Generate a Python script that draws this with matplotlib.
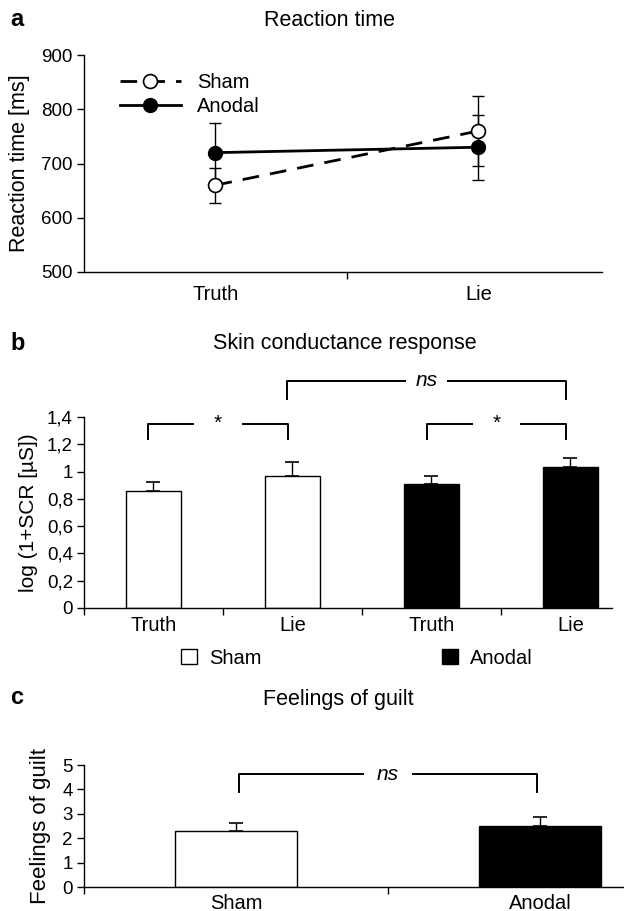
import matplotlib
matplotlib.use("Agg")
import matplotlib.pyplot as plt
from matplotlib.patches import Patch

plt.rcParams["font.family"] = ["Liberation Sans", "DejaVu Sans"]

# panel a: reaction time
rt_conditions = ["Truth", "Lie"]
rt_sham = [660, 760]
rt_sham_err = [32, 65]
rt_anodal = [720, 730]
rt_anodal_err = [55, 60]

# panel b: skin conductance response
scr_labels = ["Truth", "Lie", "Truth", "Lie"]
scr_values = [0.86, 0.97, 0.91, 1.03]
scr_err = [0.06, 0.10, 0.06, 0.07]
scr_groups = ["Sham", "Sham", "Anodal", "Anodal"]
scr_yticks = [0, 0.2, 0.4, 0.6, 0.8, 1.0, 1.2, 1.4]
scr_yticklabels = ["0", "0,2", "0,4", "0,6", "0,8", "1", "1,2", "1,4"]

# panel c: feelings of guilt
guilt_labels = ["Sham", "Anodal"]
guilt_values = [2.3, 2.5]
guilt_err = [0.33, 0.35]

colors = {"Sham": "white", "Anodal": "black"}
W, H = 624, 911
TICK_FS = 13.5
LAB_FS = 14.5
fig = plt.figure(figsize=(W / 100, H / 100), dpi=100)


def px_axes(left, top, right, bottom):
    return fig.add_axes([left / W, 1 - bottom / H, (right - left) / W, (bottom - top) / H])


def style(ax):
    for s in ["top", "right"]:
        ax.spines[s].set_visible(False)
    for s in ["left", "bottom"]:
        ax.spines[s].set_linewidth(1.0)
    ax.tick_params(axis="y", direction="out", length=5, width=1, labelsize=TICK_FS, pad=3)
    ax.tick_params(axis="x", direction="out", length=5, width=1, labelsize=TICK_FS, pad=8)


def bracket(ax, x1, x2, y_top, y_bot, text, gap, italic=False, fs=15):
    xm = (x1 + x2) / 2
    kw = dict(color="black", lw=1.4, clip_on=False, solid_capstyle="butt")
    ax.plot([x1, x1, xm - gap], [y_bot, y_top, y_top], **kw)
    ax.plot([xm + gap, x2, x2], [y_top, y_top, y_bot], **kw)
    ax.text(xm, y_top, text, ha="center", va="center", fontsize=fs,
            style="italic" if italic else "normal")


def cat_labels(ax, xs, labels, y):
    for x, lab in zip(xs, labels):
        ax.text(x, y, lab, transform=ax.get_xaxis_transform(), ha="center", va="top", fontsize=LAB_FS)


# ---- panel a ----
ax = px_axes(84, 55, 602, 272)
style(ax)
xs = [0.5, 1.5]
ax.errorbar(xs, rt_sham, yerr=rt_sham_err, fmt="none", ecolor="black", elinewidth=1, capsize=4, capthick=1)
ax.errorbar(xs, rt_anodal, yerr=rt_anodal_err, fmt="none", ecolor="black", elinewidth=1, capsize=4, capthick=1)
ax.plot(xs, rt_sham, color="black", lw=2, dashes=(6, 4), marker="o", ms=10,
        mfc="white", mec="black", mew=1.2, label="Sham", zorder=3)
ax.plot(xs, rt_anodal, color="black", lw=2, marker="o", ms=10,
        mfc="black", mec="black", label="Anodal", zorder=3)
ax.set_xlim(0, 1.97)
ax.set_ylim(500, 900)
ax.set_yticks([500, 600, 700, 800, 900])
ax.set_xticks([1])
ax.set_xticklabels([""])
cat_labels(ax, xs, rt_conditions, -0.06)
ax.set_ylabel("Reaction time [ms]", fontsize=15.5, labelpad=8)
ax.legend(loc="upper left", bbox_to_anchor=(0.035, 1.0), frameon=False, fontsize=LAB_FS,
          handlelength=3.0, handletextpad=0.8, labelspacing=0.25)
fig.text(10 / W, 1 - 19 / H, "a", fontsize=17, fontweight="bold", va="center")
fig.text(330 / W, 1 - 20 / H, "Reaction time", fontsize=15.5, ha="center", va="center")

# ---- panel b ----
ax = px_axes(84, 417, 612, 608)
style(ax)
bx = [0.5, 1.5, 2.5, 3.5]
ax.bar(bx, scr_values, width=0.4, color=[colors[g] for g in scr_groups], edgecolor="black", lw=1.0,
       yerr=[[0] * len(scr_err), scr_err],
       error_kw=dict(ecolor="black", elinewidth=1, capsize=5, capthick=1.2), zorder=2)
ax.set_xlim(0, 3.8)
ax.set_ylim(0, 1.4)
ax.set_yticks(scr_yticks)
ax.set_yticklabels(scr_yticklabels)
ax.set_xticks([0, 1, 2, 3])
ax.set_xticklabels([""] * 4)
cat_labels(ax, bx, scr_labels, -0.04)
ax.set_ylabel("log (1+SCR [µS])", fontsize=15, labelpad=6)
bracket(ax, 0.46, 1.47, 1.35, 1.23, "*", 0.17)
bracket(ax, 2.47, 3.47, 1.35, 1.23, "*", 0.17)
bracket(ax, 1.46, 3.47, 1.665, 1.525, "ns", 0.15, italic=True)
fig.text(10 / W, 1 - 343 / H, "b", fontsize=17, fontweight="bold", va="center")
fig.text(345 / W, 1 - 343 / H, "Skin conductance response", fontsize=15.5, ha="center", va="center")
l1 = fig.legend(handles=[Patch(facecolor="white", edgecolor="black", label="Sham")],
                loc="center left", bbox_to_anchor=(163 / W, 1 - 658 / H), frameon=False,
                fontsize=LAB_FS, handlelength=0.8, handleheight=0.8, handletextpad=0.6)
fig.legend(handles=[Patch(facecolor="black", edgecolor="black", label="Anodal")],
           loc="center left", bbox_to_anchor=(424 / W, 1 - 658 / H), frameon=False,
           fontsize=LAB_FS, handlelength=0.8, handleheight=0.8, handletextpad=0.6)

# ---- panel c ----
ax = px_axes(84, 765, 624, 887)
style(ax)
cx = [0.5, 1.5]
ax.bar(cx, guilt_values, width=0.4, color=[colors[g] for g in guilt_labels], edgecolor="black", lw=1.0,
       yerr=[[0] * len(guilt_err), guilt_err],
       error_kw=dict(ecolor="black", elinewidth=1, capsize=5, capthick=1.2), zorder=2)
ax.set_xlim(0, 1.776)
ax.set_ylim(0, 5)
ax.set_yticks([0, 1, 2, 3, 4, 5])
ax.set_xticks([0, 1])
ax.set_xticklabels(["", ""])
cat_labels(ax, cx, guilt_labels, -0.055)
ax.set_ylabel("Feelings of guilt", fontsize=16, labelpad=8)
bracket(ax, 0.51, 1.49, 4.62, 3.84, "ns", 0.08, italic=True)
fig.text(10 / W, 1 - 697 / H, "c", fontsize=17, fontweight="bold", va="center")
fig.text(338 / W, 1 - 700 / H, "Feelings of guilt", fontsize=15.5, ha="center", va="center")

fig.savefig("out.png", dpi=100)
